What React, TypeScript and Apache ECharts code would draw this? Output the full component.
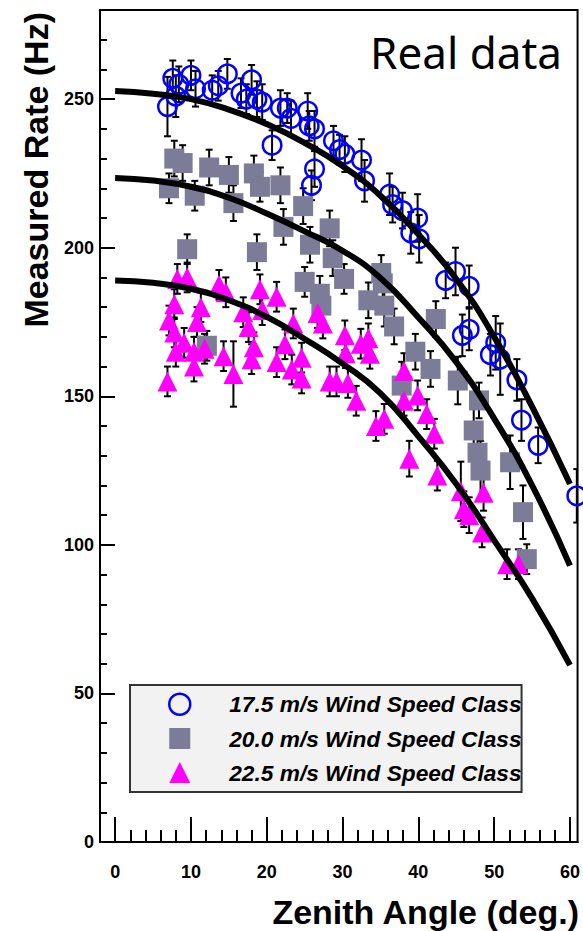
import React, { useEffect, useRef } from "react";
import * as echarts from "echarts";

// ---- 17.5 m/s wind speed class (blue open circles)
const blueAngle = [6.9, 7.6, 8.0, 8.4, 10.0, 10.6, 12.8, 13.6, 14.8, 16.6, 17.3, 18.0, 18.7, 19.4, 20.7, 21.8, 22.7, 23.2, 25.4, 25.6, 26.3, 26.3, 25.9, 28.8, 29.6, 30.3, 32.5, 32.9, 36.2, 36.6, 37.9, 39.9, 39.0, 40.1, 43.6, 44.9, 46.7, 45.8, 46.7, 50.2, 49.5, 50.8, 53.0, 53.6, 55.8, 60.9];
const blueRate = [247.5, 257, 251, 255, 258, 253.5, 253, 254.5, 258.5, 252, 250, 256.5, 250, 249, 234.5, 247, 247, 243.5, 246, 241, 240, 226.5, 221, 236, 233, 231.5, 229.5, 222.5, 218, 214.5, 212.5, 210, 205, 203, 189, 192, 187, 170.5, 172.5, 168, 164, 162.5, 155.5, 142, 133.5, 116.5];
const blueErr = [10, 6, 7, 6, 5, 6, 5, 5, 5, 5, 5, 5, 6, 6, 5, 6, 5, 6, 6, 5, 6, 6, 5, 5, 5, 6, 7, 7, 7, 6, 6, 8, 7, 8, 6, 8, 7, 7, 7, 9, 7, 12, 7, 7, 6, 9];

// ---- 20.0 m/s wind speed class (grey squares)
const greyAngle = [7.1, 7.8, 8.9, 9.5, 10.5, 12.1, 12.4, 15.0, 15.6, 18.3, 18.7, 19.1, 21.8, 22.2, 24.8, 25.0, 25.7, 27.0, 27.2, 28.3, 28.7, 30.2, 33.4, 35.1, 35.3, 35.5, 36.8, 37.8, 39.6, 41.6, 42.3, 45.2, 47.3, 47.8, 48.0, 48.2, 52.1, 53.8, 54.3];
const greyRate = [220, 230, 228.5, 199.5, 217.5, 167, 227, 224.5, 215, 225, 198.5, 220.5, 221, 207, 214, 188.5, 201, 184.5, 180.5, 206.5, 196.5, 189.5, 182.3, 191.5, 188, 180.5, 173.5, 153.6, 165, 159.2, 176, 155.3, 138.5, 131, 148.6, 125, 127.8, 111, 95.2];
const greyErr = [5, 6, 6, 5, 5, 5, 6, 6, 6, 6, 6, 5, 6, 6, 6, 5, 6, 6, 6, 6, 6, 5, 6, 6, 6, 7, 6, 8, 6, 6, 6, 8, 8, 6, 6, 10, 9, 9, 5];

// ---- 22.5 m/s wind speed class (magenta triangles)
const pinkAngle = [6.9, 7.1, 7.8, 7.8, 8.0, 8.2, 9.1, 9.5, 10.4, 10.4, 10.8, 11.3, 11.8, 13.7, 14.3, 14.6, 15.6, 16.9, 17.6, 18.0, 18.3, 19.1, 19.4, 21.3, 21.3, 22.4, 23.3, 23.5, 24.6, 24.6, 26.7, 27.4, 28.3, 29.2, 30.3, 30.4, 30.7, 31.8, 32.4, 33.4, 33.6, 34.4, 35.5, 38.1, 38.1, 38.8, 39.9, 41.1, 42.1, 42.5, 45.6, 46.0, 46.7, 48.4, 48.6, 51.7, 53.2];
const pinkRate = [155, 175.5, 181, 171.5, 165, 189.5, 168, 190, 165, 160, 175, 180, 166, 187.5, 163.5, 185, 157.5, 178.3, 173.3, 162.5, 166.5, 186, 179, 183.5, 161.5, 167.5, 159, 174.5, 163, 156, 178, 174.5, 155, 155, 170.5, 164.5, 154.5, 148.5, 167.7, 169.5, 164.3, 140, 142.4, 158.5, 148.5, 129, 150.3, 144, 137.4, 123.3, 118, 112, 110, 104.2, 117.5, 93.5, 93.5];
const pinkErr = [5, 5, 5, 5, 5, 5, 5, 5, 5, 5, 5, 5, 5, 5, 5, 5, 11, 5, 5, 5, 5, 5, 5, 5, 5, 5, 5, 5, 5, 5, 5, 5, 5, 5, 5, 5, 5, 5, 5, 5, 5, 5, 5, 6, 5, 6, 5, 5, 5, 5, 10, 6, 6, 5, 6, 5, 5];

// ---- fitted curves
const fitAngle = [0, 5, 10, 15, 20, 25, 30, 35, 40, 45, 50, 55, 60];
const fit175 = [252.7, 251.8, 250, 246.5, 241.6, 235.3, 227.5, 217.5, 204.5, 189.5, 170, 146.5, 120.5];
const fit200 = [223.5, 222.6, 220.5, 216.8, 211.5, 205.5, 199, 189.8, 176.5, 161.5, 142.5, 120, 93];
const fit225 = [189, 188.2, 186.2, 182.3, 176.7, 169.3, 161, 151, 136.5, 120.5, 101.5, 82, 59.5];

// ---- ticks
const xMajorTicks = [0, 10, 20, 30, 40, 50, 60];
const xMinorTicks = [2, 4, 6, 8, 12, 14, 16, 18, 22, 24, 26, 28, 32, 34, 36, 38, 42, 44, 46, 48, 52, 54, 56, 58];
const yMajorTicks = [0, 50, 100, 150, 200, 250];
const yMinorTicks = [10, 20, 30, 40, 60, 70, 80, 90, 110, 120, 130, 140, 160, 170, 180, 190, 210, 220, 230, 240, 260, 270];

const names = ["17.5 m/s Wind Speed Class", "20.0 m/s Wind Speed Class", "22.5 m/s Wind Speed Class"];

const FONT = "Liberation Sans, Arial, Helvetica, sans-serif";

function errData(a: number[], r: number[], e: number[]) {
  return a.map((x, i) => [x, r[i] - e[i], r[i] + e[i]]);
}
function pts(a: number[], r: number[]) {
  return a.map((x, i) => [x, r[i]]);
}

function errSeries(data: number[][]) {
  return {
    type: "custom",
    xAxisIndex: 0,
    yAxisIndex: 0,
    clip: true,
    silent: true,
    data,
    encode: { x: 0, y: [1, 2] },
    renderItem: (params: any, api: any) => {
      const x = api.value(0);
      const lo = api.coord([x, api.value(1)]);
      const hi = api.coord([x, api.value(2)]);
      const st = { stroke: "#000", lineWidth: 2 };
      const cw = 3.5;
      return {
        type: "group",
        children: [
          { type: "line", shape: { x1: lo[0], y1: lo[1], x2: hi[0], y2: hi[1] }, style: st },
          { type: "line", shape: { x1: lo[0] - cw, y1: lo[1], x2: lo[0] + cw, y2: lo[1] }, style: st },
          { type: "line", shape: { x1: hi[0] - cw, y1: hi[1], x2: hi[0] + cw, y2: hi[1] }, style: st },
        ],
      };
    },
  };
}

function fitSeries(vals: number[]) {
  return {
    type: "line",
    xAxisIndex: 0,
    yAxisIndex: 0,
    data: pts(fitAngle, vals),
    smooth: true,
    symbol: "none",
    silent: true,
    lineStyle: { color: "#000", width: 6 },
    z: 5,
  };
}

export default function App() {
  const ref = useRef<HTMLDivElement>(null);
  useEffect(() => {
    document.body.style.margin = "0";
    if (!ref.current) return;
    const chart = echarts.init(ref.current, undefined, { renderer: "svg" });
    const tickStyle = { color: "#000", width: 2 };
    const labelStyle = { fontSize: 18, fontWeight: "bold", fontFamily: FONT, color: "#000" };
    const option: any = {
      animation: false,
      backgroundColor: "#fff",
      grid: { left: 100, right: 3, top: 10, bottom: 89, show: true, borderColor: "#000", borderWidth: 2, backgroundColor: "#fff" },
      xAxis: [
        {
          type: "value", min: -2, max: 61, position: "bottom",
          axisLine: { show: true, onZero: false, lineStyle: tickStyle },
          axisTick: { show: true, inside: true, length: 25, customValues: xMajorTicks, lineStyle: tickStyle },
          axisLabel: { show: true, customValues: xMajorTicks, margin: 21, ...labelStyle },
          splitLine: { show: false },
        },
        {
          type: "value", min: -2, max: 61, position: "bottom",
          axisLine: { show: false, onZero: false },
          axisTick: { show: true, inside: true, length: 12, customValues: xMinorTicks, lineStyle: tickStyle },
          axisLabel: { show: false },
          splitLine: { show: false },
        },
      ],
      yAxis: [
        {
          type: "value", min: 0, max: 280, position: "left",
          axisLine: { show: true, onZero: false, lineStyle: tickStyle },
          axisTick: { show: true, inside: true, length: 15, customValues: yMajorTicks, lineStyle: tickStyle },
          axisLabel: { show: true, customValues: yMajorTicks, margin: 6, ...labelStyle },
          splitLine: { show: false },
        },
        {
          type: "value", min: 0, max: 280, position: "left",
          axisLine: { show: false, onZero: false },
          axisTick: { show: true, inside: true, length: 7, customValues: yMinorTicks, lineStyle: tickStyle },
          axisLabel: { show: false },
          splitLine: { show: false },
        },
      ],
      legend: {
        show: true,
        orient: "vertical",
        left: 130,
        top: 685,
        padding: [7.5, 0, 8, 38],
        itemGap: 11,
        itemWidth: 21,
        itemHeight: 21,
        backgroundColor: "#f2f2f2",
        borderColor: "#333",
        borderWidth: 2,
        selectedMode: false,
        textStyle: { fontFamily: FONT, fontWeight: "bold", fontStyle: "italic", fontSize: 22.7, lineHeight: 21, color: "#000", padding: [0, 0, 0, 34] },
        data: [
          { name: names[0], icon: "circle", itemStyle: { color: "rgba(0,0,0,0)", borderColor: "#0000ff", borderWidth: 2.5 } },
          { name: names[1], icon: "rect", itemStyle: { color: "#7c7c99", borderWidth: 0 } },
          { name: names[2], icon: "triangle", itemStyle: { color: "#ff00ff", borderWidth: 0 } },
        ],
      },
      graphic: [
        {
          type: "text", x: 562, y: 52,
          style: { text: "Real data", align: "right", verticalAlign: "middle", textAlign: "right", textVerticalAlign: "middle", fontSize: 44, fontFamily: "Noto Sans", fill: "#000" },
        },
        {
          type: "text", x: 579, y: 912,
          style: { text: "Zenith Angle (deg.)", align: "right", verticalAlign: "middle", textAlign: "right", textVerticalAlign: "middle", fontSize: 34, fontWeight: "bold", fontFamily: FONT, fill: "#000" },
        },
        {
          type: "text", x: 36, y: 12, rotation: Math.PI / 2,
          style: { text: "Measured Rate (Hz)", align: "right", verticalAlign: "middle", textAlign: "right", textVerticalAlign: "middle", fontSize: 34, fontWeight: "bold", fontFamily: FONT, fill: "#000" },
        },
      ],
      series: [
        errSeries(errData(blueAngle, blueRate, blueErr)),
        {
          name: names[0], type: "scatter", data: pts(blueAngle, blueRate), symbol: "circle", symbolSize: 18.5,
          itemStyle: { color: "rgba(0,0,0,0)", borderColor: "#0000ff", borderWidth: 2.5, opacity: 1 }, z: 2,
        },
        errSeries(errData(greyAngle, greyRate, greyErr)),
        {
          name: names[1], type: "scatter", data: pts(greyAngle, greyRate), symbol: "rect", symbolSize: 20,
          itemStyle: { color: "#7c7c99", opacity: 1 }, z: 2,
        },
        errSeries(errData(pinkAngle, pinkRate, pinkErr)),
        {
          name: names[2], type: "scatter", data: pts(pinkAngle, pinkRate), symbol: "triangle", symbolSize: 20,
          itemStyle: { color: "#ff00ff", opacity: 1 }, z: 2,
        },
        fitSeries(fit175),
        fitSeries(fit200),
        fitSeries(fit225),
      ],
    };
    chart.setOption(option);
    return () => chart.dispose();
  }, []);
  return <div ref={ref} style={{ width: 583, height: 931, position: "absolute", left: 0, top: 0 }} />;
}
